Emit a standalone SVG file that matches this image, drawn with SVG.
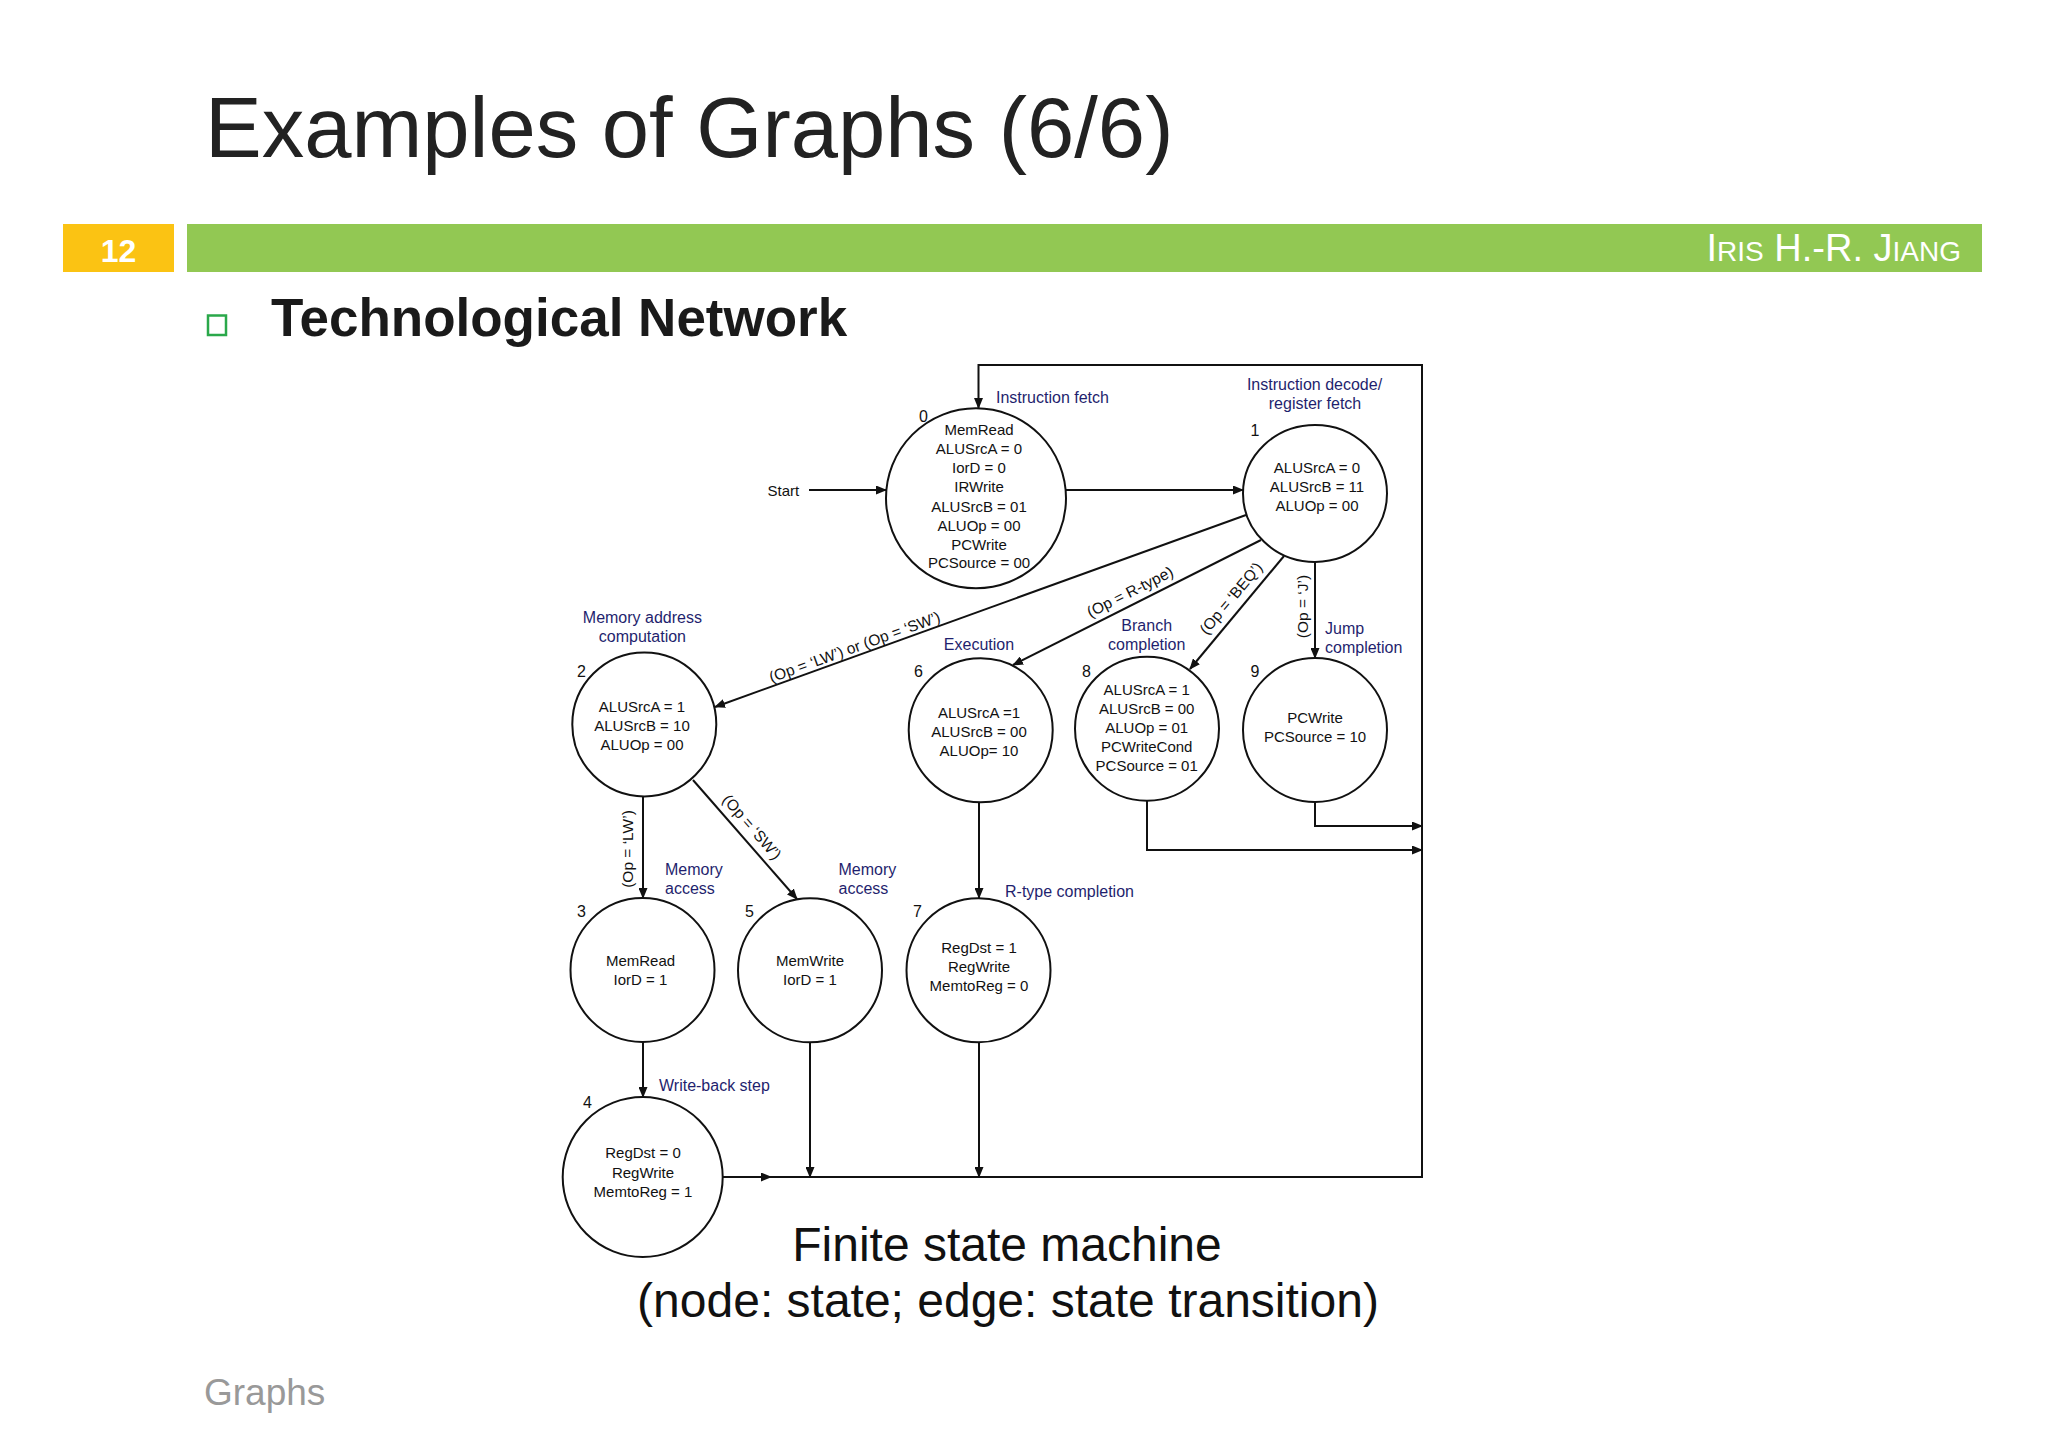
<svg xmlns="http://www.w3.org/2000/svg" width="2048" height="1456" viewBox="0 0 2048 1456">
<style>
text{font-family:"Liberation Sans",Arial,sans-serif}
.st{fill:#fff;stroke:#111;stroke-width:2}
.nt{font-size:15px;text-anchor:middle;fill:#111}
.num{font-size:16px;fill:#111}
.ph{font-size:16px;fill:#1f1f6e}
.phm{font-size:16px;fill:#1f1f6e;text-anchor:middle}
.cond{font-size:15.5px;fill:#111;text-anchor:middle}
.ln{fill:none;stroke:#111;stroke-width:2}
.ar{marker-end:url(#arr)}
</style>
<defs>
<marker id="arr" markerUnits="userSpaceOnUse" markerWidth="11" markerHeight="9" refX="10" refY="4.5" orient="auto">
<path d="M0,0 L11,4.5 L0,9 z" fill="#111"/>
</marker>
</defs>
<rect width="2048" height="1456" fill="#fff"/>

<g id="header">
<text x="205" y="157" font-size="85" fill="#222">Examples of Graphs (6/6)</text>
<rect x="63" y="224" width="111" height="48" fill="#fbc313"/>
<text x="118.5" y="262" font-size="32" font-weight="bold" fill="#fff" text-anchor="middle">12</text>
<rect x="187" y="224" width="1795" height="48" fill="#92c853"/>
<text x="1961" y="261" text-anchor="end" font-size="38" fill="#fff">I<tspan font-size="28">RIS</tspan> H.-R. J<tspan font-size="28">IANG</tspan></text>
<rect x="208" y="315.5" width="18" height="19.5" fill="none" stroke="#2aa84a" stroke-width="2.5"/>
<text x="271" y="336" font-size="53" font-weight="bold" fill="#1a1a1a">Technological Network</text>
</g>

<g id="connectors">
<text x="767.5" y="495.5" font-size="15" fill="#111">Start</text>
<path class="ln ar" d="M809,490 L886,490"/>
<path class="ln ar" d="M1066,490 L1243,490"/>
<path class="ln ar" d="M1246,515 L715,707"/>
<path class="ln ar" d="M1261,540 L1013,665"/>
<path class="ln ar" d="M1284,556 L1190,669"/>
<path class="ln ar" d="M1315,562 L1315,658"/>
<path class="ln ar" d="M643,796.5 L643,898"/>
<path class="ln ar" d="M693,780 L797,899"/>
<path class="ln ar" d="M979,802.5 L979,898"/>
<path class="ln ar" d="M643,1042 L643,1097"/>
<path class="ln ar" d="M722.5,1177 L771,1177"/>
<path class="ln ar" d="M770,1177 L1422,1177 L1422,365 L978.5,365 L978.5,408"/>
<path class="ln ar" d="M810,1042.5 L810,1177"/>
<path class="ln ar" d="M979,1042.5 L979,1177"/>
<path class="ln ar" d="M1315,802 L1315,826 L1422,826"/>
<path class="ln ar" d="M1147,800.5 L1147,850 L1422,850"/>
<text class="cond" transform="translate(856.4,652) rotate(-19.9)">(Op = ‘LW’) or (Op = ‘SW’)</text>
<text class="cond" transform="translate(1132.4,596.6) rotate(-26.7)">(Op = R-type)</text>
<text class="cond" transform="translate(1235,601.6) rotate(-50)">(Op = ‘BEQ’)</text>
<text class="cond" transform="translate(1307.5,606.5) rotate(-90)">(Op = ‘J’)</text>
<text class="cond" transform="translate(633,849) rotate(-90)">(Op = ‘LW’)</text>
<text class="cond" transform="translate(748,830.6) rotate(49)">(Op = ‘SW’)</text>
</g>

<g id="s0">
<circle class="st" cx="976" cy="498.3" r="90"/>
<text class="num" x="919" y="421.7">0</text>
<text class="ph" x="996" y="402.7">Instruction fetch</text>
<text class="nt" x="979" y="435">MemRead</text>
<text class="nt" x="979" y="454.3">ALUSrcA = 0</text>
<text class="nt" x="979" y="473.3">IorD = 0</text>
<text class="nt" x="979" y="492.3">IRWrite</text>
<text class="nt" x="979" y="511.5">ALUSrcB = 01</text>
<text class="nt" x="979" y="530.7">ALUOp = 00</text>
<text class="nt" x="979" y="549.5">PCWrite</text>
<text class="nt" x="979" y="568.3">PCSource = 00</text>
</g>

<g id="s1">
<ellipse class="st" cx="1315" cy="493.4" rx="72" ry="68.5"/>
<text class="num" x="1250.5" y="435.7">1</text>
<text class="phm" x="1314.5" y="390">Instruction decode/</text>
<text class="phm" x="1315" y="409">register fetch</text>
<text class="nt" x="1317" y="473.3">ALUSrcA = 0</text>
<text class="nt" x="1317" y="492.3">ALUSrcB =  11</text>
<text class="nt" x="1317" y="511">ALUOp = 00</text>
</g>

<g id="s2">
<circle class="st" cx="644.3" cy="724.4" r="72"/>
<text class="num" x="577" y="676.7">2</text>
<text class="phm" x="642.4" y="622.7">Memory address</text>
<text class="phm" x="642.4" y="641.7">computation</text>
<text class="nt" x="642" y="711.5">ALUSrcA = 1</text>
<text class="nt" x="642" y="730.5">ALUSrcB = 10</text>
<text class="nt" x="642" y="749.5">ALUOp = 00</text>
</g>

<g id="s6">
<circle class="st" cx="980.7" cy="730.3" r="72"/>
<text class="num" x="914" y="676.7">6</text>
<text class="phm" x="979" y="650">Execution</text>
<text class="nt" x="979" y="717.7">ALUSrcA =1</text>
<text class="nt" x="979" y="736.7">ALUSrcB = 00</text>
<text class="nt" x="979" y="755.7">ALUOp= 10</text>
</g>

<g id="s8">
<circle class="st" cx="1147" cy="728.7" r="72"/>
<text class="num" x="1082" y="676.7">8</text>
<text class="phm" x="1146.7" y="630.7">Branch</text>
<text class="phm" x="1146.7" y="650">completion</text>
<text class="nt" x="1146.7" y="695">ALUSrcA = 1</text>
<text class="nt" x="1146.7" y="714">ALUSrcB = 00</text>
<text class="nt" x="1146.7" y="732.7">ALUOp = 01</text>
<text class="nt" x="1146.7" y="751.7">PCWriteCond</text>
<text class="nt" x="1146.7" y="770.7">PCSource = 01</text>
</g>

<g id="s9">
<circle class="st" cx="1315" cy="730" r="72"/>
<text class="num" x="1250.5" y="676.7">9</text>
<text class="ph" x="1325" y="634">Jump</text>
<text class="ph" x="1325" y="652.7">completion</text>
<text class="nt" x="1315" y="723.3">PCWrite</text>
<text class="nt" x="1315" y="742.3">PCSource = 10</text>
</g>

<g id="s3">
<circle class="st" cx="642.5" cy="970" r="72"/>
<text class="num" x="577" y="916.7">3</text>
<text class="ph" x="665" y="875">Memory</text>
<text class="ph" x="665" y="894">access</text>
<text class="nt" x="640.5" y="966">MemRead</text>
<text class="nt" x="640.5" y="985">IorD = 1</text>
</g>

<g id="s5">
<circle class="st" cx="810" cy="970.3" r="72"/>
<text class="num" x="745" y="916.7">5</text>
<text class="ph" x="838.5" y="875">Memory</text>
<text class="ph" x="838.5" y="894">access</text>
<text class="nt" x="810" y="966">MemWrite</text>
<text class="nt" x="810" y="985">IorD = 1</text>
</g>

<g id="s7">
<circle class="st" cx="978.5" cy="970.3" r="72"/>
<text class="num" x="913" y="916.7">7</text>
<text class="ph" x="1005" y="896.7">R-type completion</text>
<text class="nt" x="979" y="953.3">RegDst = 1</text>
<text class="nt" x="979" y="972.3">RegWrite</text>
<text class="nt" x="979" y="991">MemtoReg = 0</text>
</g>

<g id="s4">
<circle class="st" cx="642.7" cy="1177" r="80"/>
<text class="num" x="583" y="1108">4</text>
<text class="ph" x="659" y="1091">Write-back step</text>
<text class="nt" x="643" y="1158.3">RegDst = 0</text>
<text class="nt" x="643" y="1177.7">RegWrite</text>
<text class="nt" x="643" y="1196.7">MemtoReg = 1</text>
</g>

<g id="caption">
<text x="1007" y="1261" font-size="48" fill="#111" text-anchor="middle">Finite state machine</text>
<text x="1008" y="1317" font-size="48" fill="#111" text-anchor="middle">(node: state; edge: state transition)</text>
<text x="204" y="1405" font-size="37" fill="#999">Graphs</text>
</g>
</svg>
